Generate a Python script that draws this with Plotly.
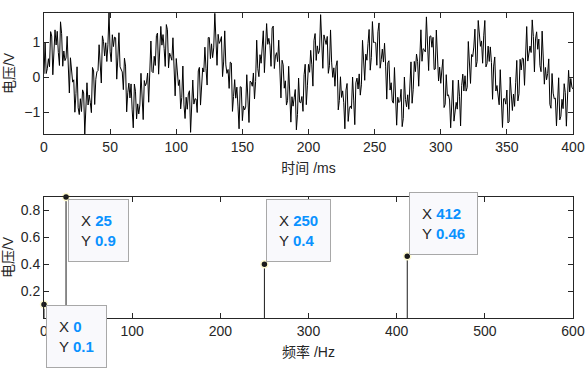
import numpy as np
import plotly.graph_objects as go
from plotly.subplots import make_subplots

# ---- data ----
freqs_hz = [0, 25, 250, 412]          # spectral components (Hz)
amps_v = [0.1, 0.9, 0.4, 0.46]        # one-sided amplitudes (V)
fs_hz = 1200                          # sampling rate
duration_ms = 400
time_ticks = [0, 50, 100, 150, 200, 250, 300, 350, 400]
time_yticks = [-1, 0, 1]
freq_ticks = [0, 100, 200, 300, 400, 500, 600]
freq_yticks = [0.2, 0.4, 0.6, 0.8]

# time signal built from the spectral components above
t_ms = np.arange(0, duration_ms + 1e-9, 1000.0 / fs_hz)
t_s = t_ms / 1000.0
sig = np.zeros_like(t_s)
for f, a in zip(freqs_hz, amps_v):
    sig += a if f == 0 else a * np.sin(2 * np.pi * f * t_s)

# ---- styling ----
FONT = "Arial, 'Liberation Sans', 'Noto Sans CJK SC', sans-serif"
AX = "#262626"
BLUE = "#0a92ff"
# datatip placement: (xanchor, yanchor, xshift, yshift)
tip_place = [("left", "top", 2, 0), ("left", "top", 2, -2),
             ("left", "bottom", 2, 2), ("left", "bottom", 2, 1)]

fig = make_subplots(rows=2, cols=1)

fig.add_trace(go.Scatter(x=t_ms, y=sig, mode="lines",
                         line=dict(color="black", width=1), showlegend=False),
              row=1, col=1)

sx, sy = [], []
for f, a in zip(freqs_hz, amps_v):
    sx += [f, f, None]
    sy += [0, a, None]
fig.add_trace(go.Scatter(x=sx, y=sy, mode="lines",
                         line=dict(color="#1a1a1a", width=1), showlegend=False),
              row=2, col=1)
fig.add_trace(go.Scatter(x=freqs_hz, y=amps_v, mode="markers",
                         marker=dict(color="#1a1a1a", size=7,
                                     line=dict(color="#fffbd0", width=1.5)),
                         showlegend=False, cliponaxis=False),
              row=2, col=1)

axis_common = dict(showline=True, linecolor=AX, linewidth=1, mirror="ticks",
                   ticks="inside", ticklen=5, tickcolor=AX, showgrid=False,
                   zeroline=False, automargin=False,
                   tickfont=dict(family=FONT, size=14, color=AX))

ymin, ymax = float(sig.min()), float(sig.max())
fig.update_xaxes(**axis_common, range=[0, duration_ms], tickvals=time_ticks,
                 title=dict(text="时间 /ms", font=dict(family=FONT, size=14, color=AX),
                            standoff=9),
                 domain=[0, 1], row=1, col=1)
fig.update_yaxes(**axis_common, range=[ymin, ymax], tickvals=time_yticks,
                 title=dict(text="电压/V", font=dict(family=FONT, size=14, color=AX),
                            standoff=6),
                 domain=[0.6033, 1.0], row=1, col=1)
fig.update_xaxes(**axis_common, range=[0, 600], tickvals=freq_ticks,
                 title=dict(text="频率 /Hz", font=dict(family=FONT, size=14, color=AX),
                            standoff=9),
                 domain=[0, 1], row=2, col=1)
fig.update_yaxes(**axis_common, range=[0, 0.9], tickvals=freq_yticks,
                 tickformat=".1f",
                 title=dict(text="电压/V", font=dict(family=FONT, size=14, color=AX),
                            standoff=6),
                 domain=[0.0, 0.3967], row=2, col=1)

for (f, a), (xa, ya, xs, ys) in zip(zip(freqs_hz, amps_v), tip_place):
    txt = (f"X <b><span style='color:{BLUE}'>{f:g}</span></b><br>"
           f"Y <b><span style='color:{BLUE}'>{a:g}</span></b>")
    fig.add_annotation(x=f, y=a, xref="x2", yref="y2", text=txt, showarrow=False,
                       xanchor=xa, yanchor=ya, xshift=xs, yshift=ys, align="left",
                       font=dict(family=FONT, size=15, color=AX),
                       bgcolor="#f9f9fc", bordercolor="#a8a8a8", borderwidth=1,
                       borderpad=12)

fig.update_layout(width=588, height=379, margin=dict(l=44, r=15, t=13, b=61),
                  plot_bgcolor="white", paper_bgcolor="white")

fig.write_html("out.html")
